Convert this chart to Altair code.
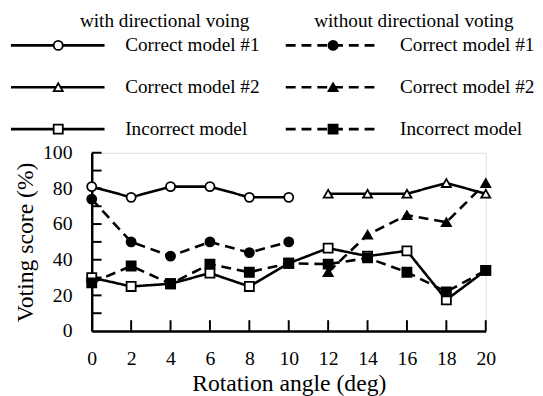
import altair as alt
import pandas as pd

# ---------------- data ----------------
angles = [0, 2, 4, 6, 8, 10, 12, 14, 16, 18, 20]
angles_first = angles[:6]     # 0..10
angles_second = angles[6:]    # 12..20

with_model1 = [81, 75, 81, 81, 75, 75]
with_model2 = [77, 77, 77, 83, 77]
with_incorrect = [30, 25, 26.5, 32.5, 25, 38, 46.5, 42, 45, 17.5, 34]
without_model1 = [74, 50, 42, 50, 44, 50]
without_model2 = [33, 54, 65, 61, 83]
without_incorrect = [27, 36.5, 26.5, 37.5, 33, 38, 37.5, 41, 33, 22, 34]

model_labels = ["Correct model #1", "Correct model #2", "Incorrect model"]
group_names = ["with", "without"]
group_titles = ["with directional voing", "without directional voting"]

x_tick_values = [2, 4, 6, 8, 10, 12, 14, 16, 18, 20]
x_label_values = angles
y_label_values = [0, 20, 40, 60, 80, 100]
y_tick_values = [10, 20, 30, 40, 50, 60, 70, 80, 90, 100]

# ---------------- tables ----------------
series_defs = [
    ("with", "Correct model #1", angles_first, with_model1),
    ("with", "Correct model #2", angles_second, with_model2),
    ("with", "Incorrect model", angles, with_incorrect),
    ("without", "Correct model #1", angles_first, without_model1),
    ("without", "Correct model #2", angles_second, without_model2),
    ("without", "Incorrect model", angles, without_incorrect),
]
rows = []
for g, m, xs, ys in series_defs:
    for a, v in zip(xs, ys):
        rows.append({"group": g, "model": m, "series": g + " | " + m, "angle": a, "score": v})
df = pd.DataFrame(rows)
series_names = [g + " | " + m for g, m, _, _ in series_defs]

leg_rows = []
for gi, g in enumerate(group_names):
    for ri, m in enumerate(model_labels):
        leg_rows.append({"group": g, "model": m, "series": g + " | " + m, "gi": gi, "ri": ri})
leg = pd.DataFrame(leg_rows)

FONT = "Liberation Serif, Times New Roman, Times, DejaVu Serif, serif"
W, H = 400, 181

shape_scale = alt.Scale(domain=series_names,
                        range=["circle", "triangle-up", "square", "circle", "triangle-up", "square"])
fill_scale = alt.Scale(domain=series_names,
                       range=["white", "white", "white", "black", "black", "black"])
dash_scale = alt.Scale(domain=group_names, range=[[1, 0], [10, 6]])

x_scale = alt.Scale(domain=[0, 20], nice=False, zero=False)
y_scale = alt.Scale(domain=[0, 100], nice=False)

x_axis = alt.Axis(values=x_label_values, title="Rotation angle (deg)", ticks=False, tickSize=0,
                  labelPadding=18, labelFontSize=20, labelFont=FONT, labelColor="black",
                  labelFlush=False, labelOverlap=False, domainColor="black", domainWidth=2.5,
                  grid=False, titleFont=FONT, titleFontSize=24, titleFontWeight="normal",
                  titleColor="black", titleX=W / 2, titleY=60, titleBaseline="alphabetic",
                  titleAlign="center", format="d")
y_axis = alt.Axis(values=y_label_values, title="Voting score (%)", ticks=False, tickSize=0,
                  labelPadding=20, labelFontSize=20, labelFont=FONT, labelColor="black",
                  labelFlush=False, labelOverlap=False, domainColor="black", domainWidth=2.5,
                  grid=False, titleFont=FONT, titleFontSize=24, titleFontWeight="normal",
                  titleColor="black", titleX=-60, titleY=H / 2, titleBaseline="alphabetic",
                  titleAlign="center", titleAngle=270, format="d")

base = alt.Chart(df)
lines = base.mark_line(stroke="black", strokeWidth=2.6).encode(
    x=alt.X("angle:Q", scale=x_scale, axis=x_axis),
    y=alt.Y("score:Q", scale=y_scale, axis=y_axis),
    detail="series:N",
    strokeDash=alt.StrokeDash("group:N", scale=dash_scale, legend=None),
)
points = base.mark_point(stroke="black", strokeWidth=1.8, opacity=1, fillOpacity=1, size=85).encode(
    x=alt.X("angle:Q", scale=x_scale, axis=x_axis),
    y=alt.Y("score:Q", scale=y_scale, axis=y_axis),
    shape=alt.Shape("series:N", scale=shape_scale, legend=None),
    fill=alt.Fill("series:N", scale=fill_scale, legend=None),
)
xticks = alt.Chart(pd.DataFrame({"t": x_tick_values})).mark_rule(stroke="black", strokeWidth=2).encode(
    x=alt.X("t:Q", scale=x_scale, axis=x_axis), y=alt.value(H), y2=alt.value(H - 11))
yticks = alt.Chart(pd.DataFrame({"t": y_tick_values})).mark_rule(stroke="black", strokeWidth=2).encode(
    y=alt.Y("t:Q", scale=y_scale, axis=y_axis), x=alt.value(0), x2=alt.value(10))

plot = alt.layer(lines, xticks, yticks, points)

# ---------------- legend ----------------
lx = alt.Scale(domain=[0, 1], range=[-34, 245], nice=False, zero=False)
ly = alt.Scale(domain=[0, 2], range=[-109, -24], nice=False, zero=False)
lbase = alt.Chart(leg)
leg_rule = lbase.mark_rule(stroke="black", strokeWidth=2.6, xOffset=-48, x2Offset=47).encode(
    x=alt.X("gi:Q", scale=lx, axis=None), x2="gi:Q",
    y=alt.Y("ri:Q", scale=ly, axis=None),
    strokeDash=alt.StrokeDash("group:N", scale=dash_scale, legend=None),
)
leg_pts = lbase.mark_point(stroke="black", strokeWidth=1.8, opacity=1, fillOpacity=1, size=85).encode(
    x=alt.X("gi:Q", scale=lx, axis=None),
    y=alt.Y("ri:Q", scale=ly, axis=None),
    shape=alt.Shape("series:N", scale=shape_scale, legend=None),
    fill=alt.Fill("series:N", scale=fill_scale, legend=None),
)
leg_txt = lbase.mark_text(font=FONT, fontSize=19.5, align="left", baseline="middle", dx=68,
                          color="black").encode(
    x=alt.X("gi:Q", scale=lx, axis=None),
    y=alt.Y("ri:Q", scale=ly, axis=None),
    text="model:N",
)
hdr_df = pd.DataFrame({"title": group_titles})
hdr_left = alt.Chart(hdr_df).transform_filter(alt.datum.title == group_titles[0]).mark_text(
    font=FONT, fontSize=19.5, align="center", baseline="middle", color="black").encode(
    x=alt.value(74), y=alt.value(-134), text="title:N")
hdr_right = alt.Chart(hdr_df).transform_filter(alt.datum.title == group_titles[1]).mark_text(
    font=FONT, fontSize=19.5, align="center", baseline="middle", color="black").encode(
    x=alt.value(327), y=alt.value(-134), text="title:N")

legend = alt.layer(leg_rule, leg_pts, leg_txt, hdr_left, hdr_right)

chart = alt.layer(plot, legend).resolve_scale(x="independent", y="independent").properties(
    width=W, height=H,
    autosize=alt.AutoSizeParams(type="none"),
    padding={"left": 85, "top": 144, "right": 50, "bottom": 63},
).configure_view(stroke=None).configure_axis(labelOverlap=False, labelFont=FONT, titleFont=FONT
).configure(background="white", font=FONT)

chart.save("out.html", embed_options={"renderer": "svg", "actions": False})
